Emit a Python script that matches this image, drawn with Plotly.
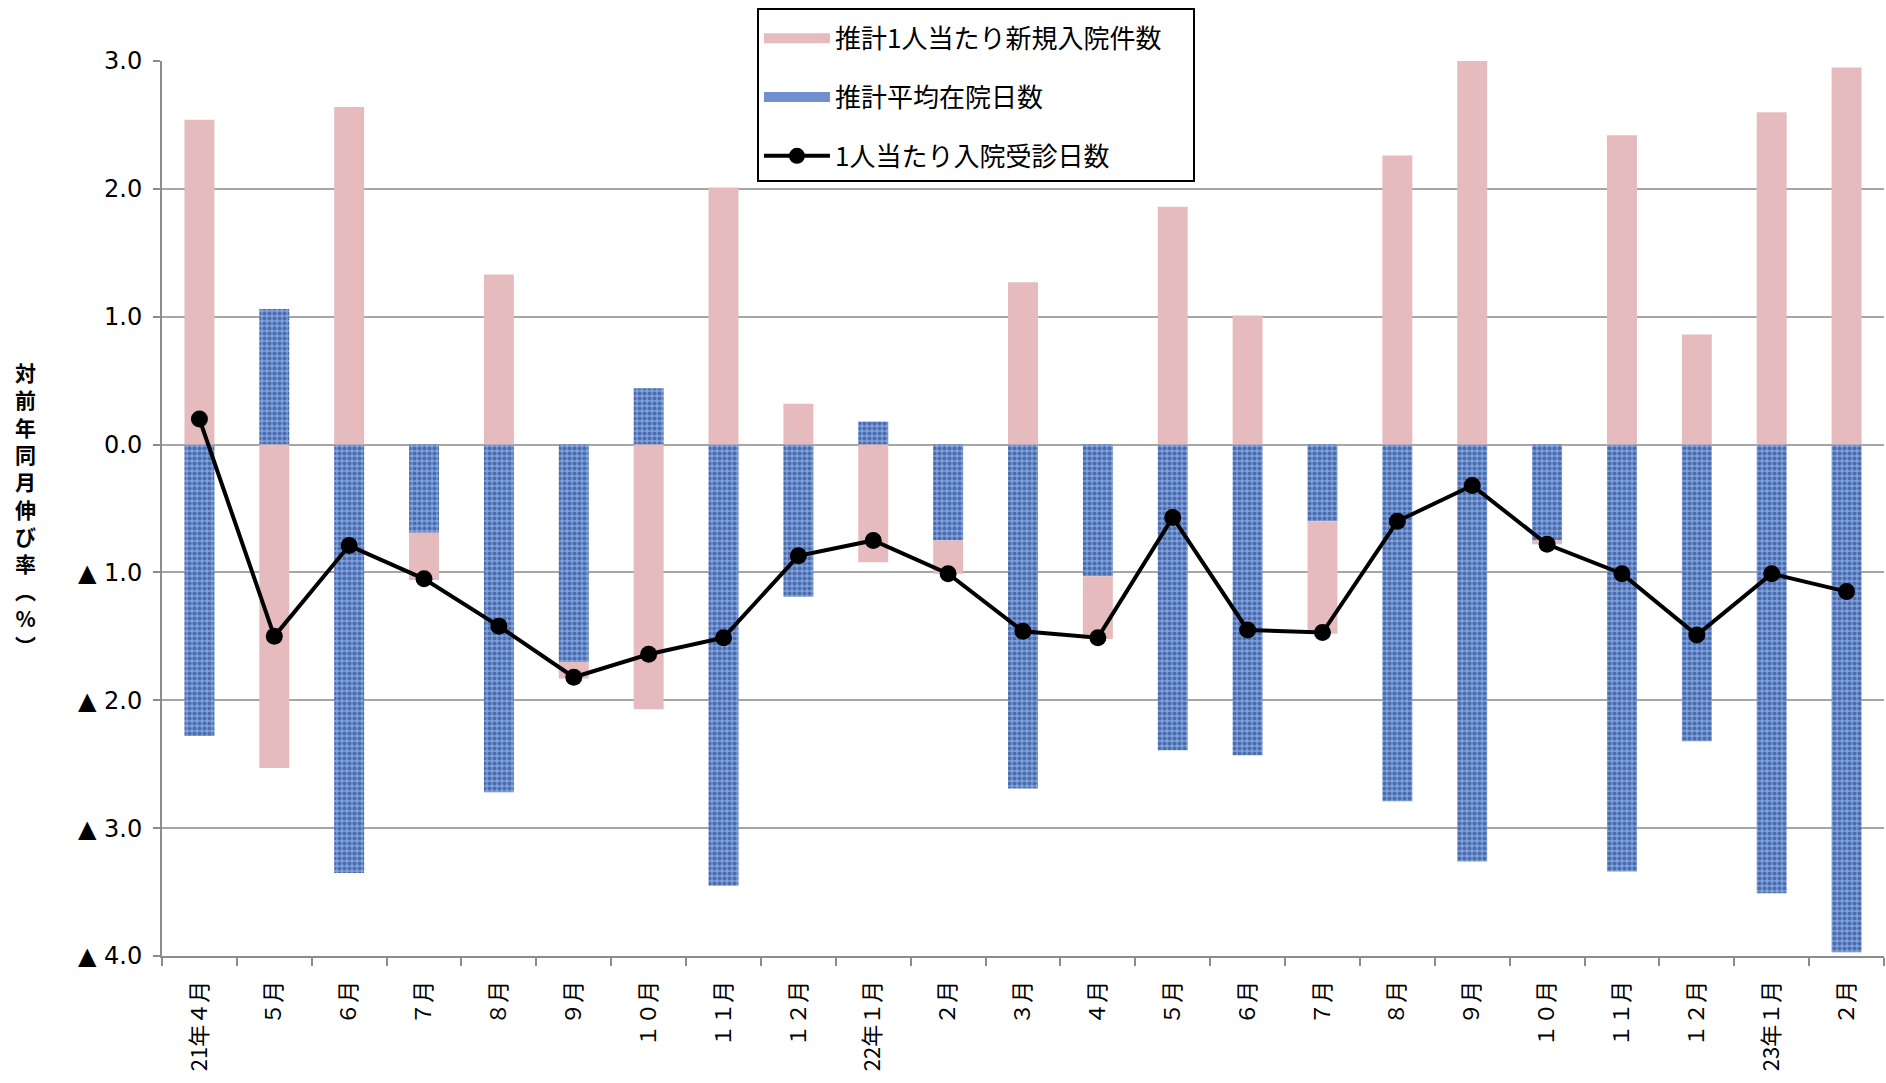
import plotly.graph_objects as go

# ---- data ----
months = ["21-04", "21-05", "21-06", "21-07", "21-08", "21-09", "21-10", "21-11", "21-12",
          "22-01", "22-02", "22-03", "22-04", "22-05", "22-06", "22-07", "22-08", "22-09",
          "22-10", "22-11", "22-12", "23-01", "23-02"]
month_labels = ["21年４月", "５月", "６月", "７月", "８月", "９月", "１０月", "１１月", "１２月",
                "22年１月", "２月", "３月", "４月", "５月", "６月", "７月", "８月", "９月",
                "１０月", "１１月", "１２月", "23年１月", "２月"]
new_admissions = [2.54, -2.53, 2.64, -0.37, 1.33, -0.13, -2.07, 2.01, 0.32,
                  -0.92, -0.26, 1.27, -0.49, 1.86, 1.01, -0.88, 2.26, 3.00,
                  -0.03, 2.42, 0.86, 2.60, 2.95]
avg_stay = [-2.28, 1.06, -3.35, -0.69, -2.72, -1.70, 0.44, -3.45, -1.19,
            0.18, -0.75, -2.69, -1.03, -2.39, -2.43, -0.60, -2.79, -3.26,
            -0.75, -3.34, -2.32, -3.51, -3.97]
days_per_person = [0.20, -1.50, -0.79, -1.05, -1.42, -1.82, -1.64, -1.51, -0.87,
                   -0.75, -1.01, -1.46, -1.51, -0.57, -1.45, -1.47, -0.60, -0.32,
                   -0.78, -1.01, -1.49, -1.01, -1.15]
y_tickvals = [3, 2, 1, 0, -1, -2, -3, -4]
y_ticktext = ["3.0", "2.0", "1.0", "0.0", "▲ 1.0", "▲ 2.0", "▲ 3.0", "▲ 4.0"]
y_title_chars = ["対", "前", "年", "同", "月", "伸", "び", "率", "︵", "%", "︶"]

name_new = "推計1人当たり新規入院件数"
name_stay = "推計平均在院日数"
name_days = "1人当たり入院受診日数"

CJK = "Noto Sans CJK JP"
PINK = "#E6BBBD"
BLUE = "#7FA1E0"

fig = go.Figure()

fig.add_trace(go.Bar(
    x=months, y=avg_stay, name=name_stay, showlegend=False,
    marker=dict(color=BLUE, line=dict(width=0),
                pattern=dict(shape=".", fgcolor="#1B3A73", bgcolor=BLUE,
                             size=5, solidity=0.55)),
))
fig.add_trace(go.Bar(
    x=months, y=new_admissions, name=name_new, showlegend=False,
    marker=dict(color=PINK, line=dict(width=0)),
))
fig.add_trace(go.Scatter(
    x=months, y=days_per_person, name=name_days, legendrank=3, legendgroup="c",
    mode="lines+markers",
    line=dict(color="black", width=4),
    marker=dict(color="black", size=17),
))

# legend-only swatches (wide rectangles like the original)
fig.add_trace(go.Scatter(
    x=[None], y=[None], mode="lines", name=name_new + "\u3000",
    legendrank=1, legendgroup="a", line=dict(color=PINK, width=13),
))
fig.add_trace(go.Scatter(
    x=[None], y=[None], mode="lines", name=name_stay,
    legendrank=2, legendgroup="b", line=dict(color="#6F8FD0", width=13),
))

fig.add_annotation(
    text="<br>".join(y_title_chars), xref="paper", yref="paper",
    x=-0.079, y=0.5, xanchor="center", yanchor="middle", showarrow=False,
    font=dict(family=CJK, size=21, color="black", weight="bold"),
    align="center",
)

fig.update_layout(
    width=1886, height=1083,
    margin=dict(l=162, r=2, t=61, b=127),
    paper_bgcolor="white", plot_bgcolor="white",
    barmode="relative", bargap=0.60,
    showlegend=True,
    legend=dict(
        x=0.3455, y=1.0596, xanchor="left", yanchor="top",
        bgcolor="white", bordercolor="black", borderwidth=2,
        font=dict(family=CJK, size=26, color="black"),
        title=dict(text=" ", font=dict(size=4)),
        tracegroupgap=22, itemwidth=66, traceorder="grouped",
    ),
    xaxis=dict(
        type="category", tickmode="array", tickvals=months, ticktext=month_labels,
        tickangle=-90, tickson="boundaries", ticks="outside", ticklen=8,
        tickcolor="#8C8C8C", tickwidth=1.5,
        showline=True, linecolor="#8C8C8C", linewidth=2,
        showgrid=False, range=[-0.5, len(months) - 0.5],
        tickfont=dict(family=CJK, size=22, color="black"),
        ticklabelstandoff=14,
    ),
    yaxis=dict(
        range=[-4, 3], tickmode="array", tickvals=y_tickvals, ticktext=y_ticktext,
        ticks="outside", ticklen=7, tickcolor="#8C8C8C", tickwidth=1.5,
        showline=True, linecolor="#8C8C8C", linewidth=2,
        showgrid=True, gridcolor="#A6A6A6", gridwidth=1.5, zeroline=False,
        tickfont=dict(family="DejaVu Sans", size=24, color="black"),
        ticklabelstandoff=6,
    ),
)

fig.write_html("out.html")
